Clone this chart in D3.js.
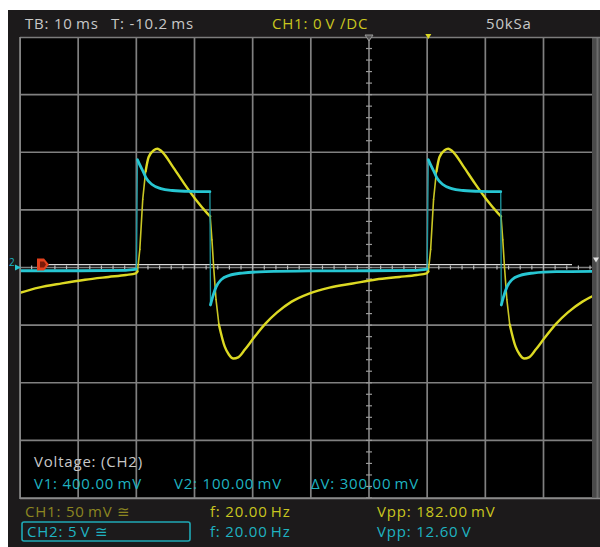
<!DOCTYPE html>
<html>
<head>
<meta charset="utf-8">
<script src="https://cdn.jsdelivr.net/npm/d3@7"></script>
<style>
  html, body { margin: 0; padding: 0; background: #fff; }
  svg { display: block; }
  text { font-family: "Open Sans", "DejaVu Sans", sans-serif; font-size: 15px; letter-spacing: 0.8px; }
</style>
</head>
<body>
<svg id="scope" width="600" height="547"></svg>
<script>
// ---- Channel 1 (yellow), time in ms relative to trigger, value in mV ----
const ch1Time = [-70.2, -67, -63, -59, -55, -52, -50.3, -50, -49.6, -49.1, -48.6, -48.1, -47.2, -46.6, -45.6, -44, -42, -40, -38, -37.5,
  -37.2, -36.9, -36.5, -36, -35, -34.3, -33.5, -32.7, -31.5, -30, -28, -26, -23.5, -20.5, -17, -13, -9, -5, -2, -0.3,
  0, 0.4, 0.9, 1.4, 1.9, 2.8, 3.4, 4.4, 6, 8, 10, 12, 12.5,
  12.8, 13.1, 13.5, 14, 15, 15.7, 16.5, 17.3, 18.5, 20, 22, 24, 26.5, 28.2];
const ch1Value = [-22, -17.5, -13.8, -10.6, -8.2, -6.5, -5, -3.5, 15.7, 59, 83.5, 95.7, 101.7, 103, 99.5, 88, 73, 59, 47, 44.3,
  24, 0, -27.8, -49.6, -68.7, -75.5, -79, -78, -71, -61, -48.7, -39, -29.6, -22.6, -17.4, -13.9, -10.4, -8.2, -6.5, -5,
  -3.5, 15.7, 59, 83.5, 95.7, 101.7, 103, 99.5, 88, 73, 59, 47, 44.3,
  24, 0, -27.8, -49.6, -68.7, -75.5, -79, -78, -71, -61, -48.7, -39, -29.6, -25];

// ---- Channel 2 (cyan), time in ms relative to trigger, value in V ----
const ch2Time = [-70.2, -60, -52, -50.2, -50, -49.6, -49, -48.5, -47.5, -46, -44, -41, -37.55,
  -37.45, -37.1, -36.5, -35.6, -34.2, -32, -28, -20, -10, -2, -0.2,
  0, 0.4, 1, 1.5, 2.5, 4, 6, 9, 12.45,
  12.55, 12.9, 13.5, 14.4, 15.8, 18, 22, 28.2];
const ch2Value = [-0.28, -0.28, -0.25, -0.15, 9.35, 8.9, 8.3, 7.75, 7.2, 6.85, 6.68, 6.6, 6.58,
  -3.25, -2.6, -1.7, -1.05, -0.68, -0.48, -0.36, -0.3, -0.28, -0.25, -0.15,
  9.35, 8.9, 8.3, 7.75, 7.2, 6.85, 6.68, 6.6, 6.58,
  -3.25, -2.6, -1.7, -1.05, -0.68, -0.48, -0.36, -0.33];

// ---- Readout texts ----
const headerLeft = ["TB: 10\u2009ms", "T: -10.2\u2009ms"];
const headerTrig = "CH1: 0\u2009V \u2215DC";
const headerRate = "50kSa";
const measTitle = "Voltage: (CH2)";
const measValues = ["V1: 400.00\u2009mV", "V2: 100.00\u2009mV", "\u0394V: 300.00\u2009mV"];
const chanLabels = ["CH1: 50\u2009mV \u2245", "CH2: 5\u2009V \u2245"];
const freqLabels = ["f: 20.00\u2009Hz", "f: 20.00\u2009Hz"];
const vppLabels = ["Vpp: 182.00\u2009mV", "Vpp: 12.60\u2009V"];

const YELLOW = "#dcd923", CYAN = "#27c6d2";
const YELLOW_TXT = "#c9c61f", CYAN_TXT = "#1fb3c1", OLIVE = "#8c8621", GREY_TXT = "#c8c8c8";

const svg = d3.select("#scope");

// 12 x 8 division screen; left part of it is visible
const x = d3.scaleLinear().domain([-70.2, 49.8]).range([20, 718]);
const yDiv = d3.scaleLinear().domain([-4, 4]).range([498, 37]);
const y1 = d3.scaleLinear().domain([-200, 200]).range([498, 37]);  // CH1: 50 mV/div
const y2 = d3.scaleLinear().domain([-20, 20]).range([498, 37]);    // CH2: 5 V/div

// frame
svg.append("rect").attr("x", 8).attr("y", 10).attr("width", 592).attr("height", 537).attr("fill", "#1c1a1b");
svg.append("rect").attr("x", 20).attr("y", 37).attr("width", 572).attr("height", 462).attr("fill", "#000");

svg.append("clipPath").attr("id", "screen")
  .append("rect").attr("x", 20).attr("y", 37).attr("width", 572).attr("height", 462);

const grid = svg.append("g").attr("clip-path", "url(#screen)");

// graticule
const vTimes = d3.range(0, 13).map(i => -70.2 + i * 10);
grid.selectAll("line.v").data(vTimes).join("line")
  .attr("x1", d => x(d)).attr("x2", d => x(d)).attr("y1", 37).attr("y2", 499)
  .attr("stroke", "#808080").attr("stroke-width", 1.7);
const hDivs = d3.range(-4, 5);
grid.selectAll("line.h").data(hDivs).join("line")
  .attr("x1", 20).attr("x2", 592).attr("y1", d => yDiv(d)).attr("y2", d => yDiv(d))
  .attr("stroke", "#808080").attr("stroke-width", 1.7);

// minor ticks on the centre axes
const cx = x(-10.2), cy = yDiv(0);
const minorT = d3.range(0, 61).map(i => -70.2 + i * 2);
grid.selectAll("line.mt").data(minorT).join("line")
  .attr("x1", d => x(d)).attr("x2", d => x(d)).attr("y1", cy - 2).attr("y2", cy + 2)
  .attr("stroke", "#bdbdbd").attr("stroke-width", 1.2);
const minorV = d3.range(0, 41).map(i => -4 + i * 0.2);
grid.selectAll("line.mv").data(minorV).join("line")
  .attr("x1", cx - 3).attr("x2", cx + 3).attr("y1", d => yDiv(d)).attr("y2", d => yDiv(d))
  .attr("stroke", "#9a9a9a").attr("stroke-width", 1.2);

// trigger level line
grid.append("line").attr("x1", 47).attr("x2", 572).attr("y1", y1(2.5)).attr("y2", y1(2.5))
  .attr("stroke", "#d8d8d8").attr("stroke-width", 1.2);

// traces: slow parts drawn bold, fast edges drawn thin
function drawTrace(times, values, yScale, color, edgeColor, wide, thin) {
  const pts = times.map((t, i) => [x(t), yScale(values[i])]);
  const runs = [];
  let run = [pts[0]];
  const edges = [];
  for (let i = 1; i < pts.length; i++) {
    const dx = Math.abs(pts[i][0] - pts[i - 1][0]);
    const dy = Math.abs(pts[i][1] - pts[i - 1][1]);
    if (dy > 10 && dy / Math.max(dx, 0.01) > 6) {
      edges.push([pts[i - 1], pts[i]]);
      if (run.length > 1) runs.push(run);
      run = [pts[i]];
    } else {
      run.push(pts[i]);
    }
  }
  if (run.length > 1) runs.push(run);
  const g = grid.append("g");
  g.selectAll("line").data(edges).join("line")
    .attr("x1", d => d[0][0]).attr("y1", d => d[0][1]).attr("x2", d => d[1][0]).attr("y2", d => d[1][1])
    .attr("stroke", edgeColor).attr("stroke-width", thin).attr("stroke-linecap", "round");
  const line = d3.line().curve(d3.curveMonotoneX);
  g.selectAll("path").data(runs).join("path")
    .attr("d", line).attr("fill", "none").attr("stroke", color)
    .attr("stroke-width", wide).attr("stroke-linejoin", "round").attr("stroke-linecap", "round");
}
drawTrace(ch1Time, ch1Value, y1, YELLOW, "#c9c624", 2.4, 1.6);
drawTrace(ch2Time, ch2Value, y2, CYAN, "#1d9aa3", 2.8, 1.3);

// right-hand bar and screen edges
svg.append("rect").attr("x", 592).attr("y", 37).attr("width", 8).attr("height", 462).attr("fill", "#4a4a4a");
svg.append("line").attr("x1", 597.5).attr("x2", 597.5).attr("y1", 37).attr("y2", 499).attr("stroke", "#6c6c6c").attr("stroke-width", 2);
svg.append("line").attr("x1", 20).attr("x2", 600).attr("y1", 498.5).attr("y2", 498.5).attr("stroke", "#8a8a8a").attr("stroke-width", 1.6);
svg.append("line").attr("x1", 20).attr("x2", 600).attr("y1", 37.5).attr("y2", 37.5).attr("stroke", "#7c7c7c").attr("stroke-width", 1.6);
svg.append("line").attr("x1", 20).attr("x2", 20).attr("y1", 37).attr("y2", 499).attr("stroke", "#8a8a8a").attr("stroke-width", 1.6);

// markers: trigger position, trigger time, channel references
svg.append("path").attr("d", `M${cx - 4},35 L${cx + 4},35 L${cx},41 Z`)
  .attr("fill", "#555").attr("stroke", "#9a9a9a").attr("stroke-width", 1);
svg.append("path").attr("d", `M${x(0) - 3},34 L${x(0) + 3},34 L${x(0)},39 Z`).attr("fill", YELLOW);
svg.append("text").attr("x", 9).attr("y", 266).style("font-size", "10px").style("letter-spacing", "0px")
  .attr("fill", CYAN_TXT).text("2");
svg.append("path").attr("d", `M15,${y2(0) - 3} L21,${y2(0)} L15,${y2(0) + 3} Z`).attr("fill", CYAN);
svg.append("path").attr("d", `M37,${y1(2.5) - 6} L44,${y1(2.5) - 6} L49,${y1(2.5)} L44,${y1(2.5) + 6} L37,${y1(2.5) + 6} Z`)
  .attr("fill", "#e2411d");
svg.append("path").attr("d", `M40,${y1(2.5) - 3} L44,${y1(2.5) - 3} L46,${y1(2.5)} L44,${y1(2.5) + 3} L40,${y1(2.5) + 3} Z`)
  .attr("fill", "#7a1a08");
svg.append("path").attr("d", `M593,${y1(6) - 3} L599,${y1(6) - 3} L596,${y1(6) + 2} Z`).attr("fill", "#e0e0e0");

// header readouts
const hdr = svg.append("g");
hdr.append("text").attr("x", 25).attr("y", 29).attr("fill", GREY_TXT).text(headerLeft[0]);
hdr.append("text").attr("x", 111).attr("y", 29).attr("fill", GREY_TXT).text(headerLeft[1]);
hdr.append("text").attr("x", 272).attr("y", 29).attr("fill", YELLOW_TXT).text(headerTrig);
hdr.append("text").attr("x", 486).attr("y", 29).attr("fill", GREY_TXT).text(headerRate);

// measurement readout inside the screen
const meas = svg.append("g");
meas.append("text").attr("x", 34).attr("y", 467).attr("fill", GREY_TXT).text(measTitle);
[34, 174, 311].forEach((px, i) =>
  meas.append("text").attr("x", px).attr("y", 489).attr("fill", CYAN_TXT).text(measValues[i]));

// channel status bar
const bar = svg.append("g");
bar.append("rect").attr("x", 22).attr("y", 522).attr("width", 168).attr("height", 19).attr("rx", 2)
  .attr("fill", "none").attr("stroke", "#1fa9b6").attr("stroke-width", 1.6);
bar.append("text").attr("x", 25).attr("y", 517).attr("fill", OLIVE).text(chanLabels[0]);
bar.append("text").attr("x", 27).attr("y", 537).attr("fill", CYAN_TXT).text(chanLabels[1]);
bar.append("text").attr("x", 210).attr("y", 517).attr("fill", YELLOW_TXT).text(freqLabels[0]);
bar.append("text").attr("x", 210).attr("y", 537).attr("fill", CYAN_TXT).text(freqLabels[1]);
bar.append("text").attr("x", 377).attr("y", 517).attr("fill", YELLOW_TXT).text(vppLabels[0]);
bar.append("text").attr("x", 377).attr("y", 537).attr("fill", CYAN_TXT).text(vppLabels[1]);
</script>
</body>
</html>
